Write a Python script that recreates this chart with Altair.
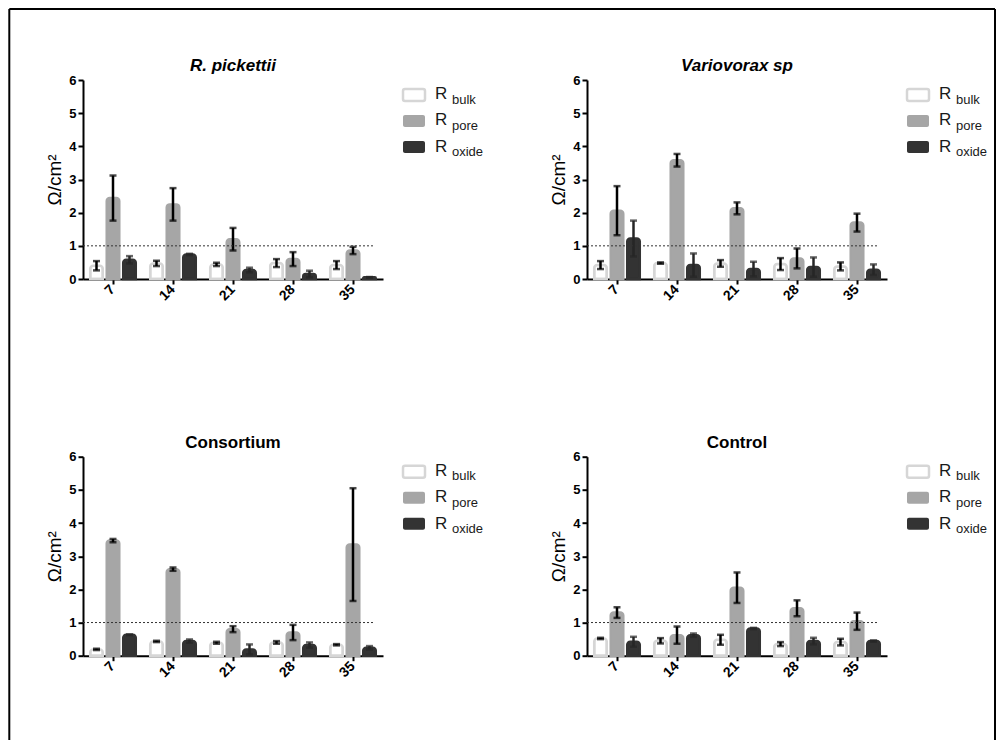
import altair as alt
import pandas as pd

days = ["7", "14", "21", "28", "35"]
series = ["bulk", "pore", "oxide"]

rp_bulk = [0.40, 0.47, 0.44, 0.48, 0.42]
rp_bulk_err = [0.14, 0.08, 0.05, 0.12, 0.12]
rp_pore = [2.44, 2.25, 1.20, 0.60, 0.86]
rp_pore_err = [0.68, 0.49, 0.34, 0.21, 0.11]
rp_oxide = [0.58, 0.74, 0.27, 0.15, 0.05]
rp_oxide_err = [0.11, 0.02, 0.07, 0.10, 0.01]

vs_bulk = [0.42, 0.48, 0.47, 0.45, 0.38]
vs_bulk_err = [0.12, 0.02, 0.10, 0.18, 0.12]
vs_pore = [2.06, 3.58, 2.13, 0.62, 1.70]
vs_pore_err = [0.74, 0.19, 0.18, 0.30, 0.27]
vs_oxide = [1.22, 0.42, 0.30, 0.36, 0.28]
vs_oxide_err = [0.54, 0.35, 0.22, 0.29, 0.16]

co_bulk = [0.19, 0.43, 0.39, 0.40, 0.33]
co_bulk_err = [0.02, 0.02, 0.03, 0.04, 0.02]
co_pore = [3.47, 2.61, 0.80, 0.70, 3.35]
co_pore_err = [0.05, 0.05, 0.09, 0.23, 1.70]
co_oxide = [0.63, 0.44, 0.19, 0.32, 0.24]
co_oxide_err = [0.01, 0.05, 0.15, 0.08, 0.05]

ct_bulk = [0.52, 0.45, 0.48, 0.35, 0.41]
ct_bulk_err = [0.02, 0.08, 0.15, 0.06, 0.10]
ct_pore = [1.30, 0.62, 2.05, 1.43, 1.04]
ct_pore_err = [0.16, 0.26, 0.46, 0.24, 0.26]
ct_oxide = [0.42, 0.62, 0.82, 0.44, 0.44]
ct_oxide_err = [0.15, 0.05, 0.02, 0.10, 0.02]

y_ticks = [0, 1, 2, 3, 4, 5, 6]

FONT = "Liberation Sans"
FILLS = ["#ffffff", "#a6a6a6", "#333333"]
STROKES = ["#d6d6d6", "#a6a6a6", "#333333"]
W, H = 300, 199


def make_df(bulk, bulk_err, pore, pore_err, oxide, oxide_err):
    rows = []
    for s, vals, errs in [("bulk", bulk, bulk_err), ("pore", pore, pore_err), ("oxide", oxide, oxide_err)]:
        for d, v, e in zip(days, vals, errs):
            rows.append({"day": d, "series": s, "value": v, "err": e, "lo": v - e, "hi": v + e})
    return pd.DataFrame(rows)


one = pd.DataFrame({"k": [0]})


def make_panel(title, italic, df, border=False):
    base = alt.Chart(df)
    xaxis = alt.Axis(title=None, labelAngle=-45, labelAlign="right", labelBaseline="middle", labelPadding=3,
                     labelFontSize=14)
    yaxis = alt.Axis(values=y_ticks, tickCount=7, title="Ω/cm²", titlePadding=4, labelPadding=2,
                     labelOverlap=False)
    yscale = alt.Scale(domain=[0, 6], nice=False)
    xscale = alt.Scale(paddingInner=0.175, paddingOuter=0.0875)

    def X():
        return alt.X("day:N", sort=days, scale=xscale, axis=xaxis)

    def XO():
        return alt.XOffset("series:N", sort=series,
                           scale=alt.Scale(domain=series, paddingInner=0.24, paddingOuter=0.12))

    def Y(field):
        return alt.Y(field, scale=yscale, axis=yaxis)

    bars = base.mark_bar(cornerRadiusTopLeft=3, cornerRadiusTopRight=3, strokeWidth=2.5).encode(
        x=X(), xOffset=XO(), y=Y("value:Q"),
        fill=alt.Fill("series:N", scale=alt.Scale(domain=series, range=FILLS), legend=None),
        stroke=alt.Stroke("series:N", scale=alt.Scale(domain=series, range=STROKES), legend=None),
    )
    layers = [bars]
    for filt, col in [("datum.series != 'oxide'", "black"), ("datum.series == 'oxide'", "#262626")]:
        sub = base.transform_filter(filt)
        layers.append(sub.mark_rule(color=col, strokeWidth=2.5).encode(
            x=X(), xOffset=XO(), y=Y("lo:Q"), y2="hi:Q"))
        layers.append(sub.mark_tick(color=col, thickness=2.5, size=7).encode(
            x=X(), xOffset=XO(), y=Y("hi:Q")))
        layers.append(sub.mark_tick(color=col, thickness=2.5, size=7).encode(
            x=X(), xOffset=XO(), y=Y("lo:Q")))
    layers.append(alt.Chart(one).mark_rule(strokeDash=[2, 2], color="#333333", strokeWidth=1).encode(
        y=alt.datum(1, scale=yscale, axis=yaxis), x=alt.value(0), x2=alt.value(290)))
    labels = ["bulk", "pore", "oxide"]
    for i, s in enumerate(labels):
        layers.append(alt.Chart(one).mark_rect(
            cornerRadius=2, fill=FILLS[i], stroke=STROKES[i], strokeWidth=2.5 if i == 0 else 0).encode(
            x=alt.value(320), x2=alt.value(342), y=alt.value(9 + 26 * i), y2=alt.value(21 + 26 * i)))
        layers.append(alt.Chart(one).mark_text(
            text="R", align="left", baseline="alphabetic", fontSize=17, font=FONT, color="#1a1a1a").encode(
            x=alt.value(352), y=alt.value(19 + 26.4 * i)))
        layers.append(alt.Chart(one).mark_text(
            text=s, align="left", baseline="alphabetic", fontSize=13, font=FONT, color="#1a1a1a").encode(
            x=alt.value(369), y=alt.value(23.5 + 26.4 * i)))
    layers.append(alt.Chart(one).mark_text(
        text=title, align="center", baseline="alphabetic", fontSize=17, fontWeight="bold",
        fontStyle="italic" if italic else "normal", font=FONT, color="black").encode(
        x=alt.value(W / 2), y=alt.value(-9)))
    if border:
        layers.append(alt.Chart(one).mark_rule(color="black", strokeWidth=2).encode(
            x=alt.value(-73.7), y=alt.value(-71), y2=alt.value(660)))
        layers.append(alt.Chart(one).mark_rule(color="black", strokeWidth=2).encode(
            x=alt.value(-73.7), x2=alt.value(912), y=alt.value(-71)))
        layers.append(alt.Chart(one).mark_rule(color="black", strokeWidth=2).encode(
            x=alt.value(912), y=alt.value(-71), y2=alt.value(660)))
    return alt.layer(*layers).properties(width=W, height=H)


p1 = make_panel("R. pickettii", True, make_df(rp_bulk, rp_bulk_err, rp_pore, rp_pore_err, rp_oxide, rp_oxide_err), border=True)
p2 = make_panel("Variovorax sp", True, make_df(vs_bulk, vs_bulk_err, vs_pore, vs_pore_err, vs_oxide, vs_oxide_err))
p3 = make_panel("Consortium", False, make_df(co_bulk, co_bulk_err, co_pore, co_pore_err, co_oxide, co_oxide_err))
p4 = make_panel("Control", False, make_df(ct_bulk, ct_bulk_err, ct_pore, ct_pore_err, ct_oxide, ct_oxide_err))

chart = alt.concat(p1, p2, p3, p4, columns=2, spacing={"row": 177.7, "column": 204}, bounds="flush").properties(
    padding=0, background="white"
).configure_view(strokeWidth=0).configure_axis(
    domainColor="black", domainWidth=2, tickColor="black", tickWidth=2, tickSize=5,
    labelFont=FONT, labelFontWeight="bold", labelFontSize=13, labelColor="black",
    titleFont=FONT, titleFontWeight="normal", titleFontSize=19, titleColor="black", grid=False,
)

chart.save("out.html", embed_options={"renderer": "svg", "actions": False})
